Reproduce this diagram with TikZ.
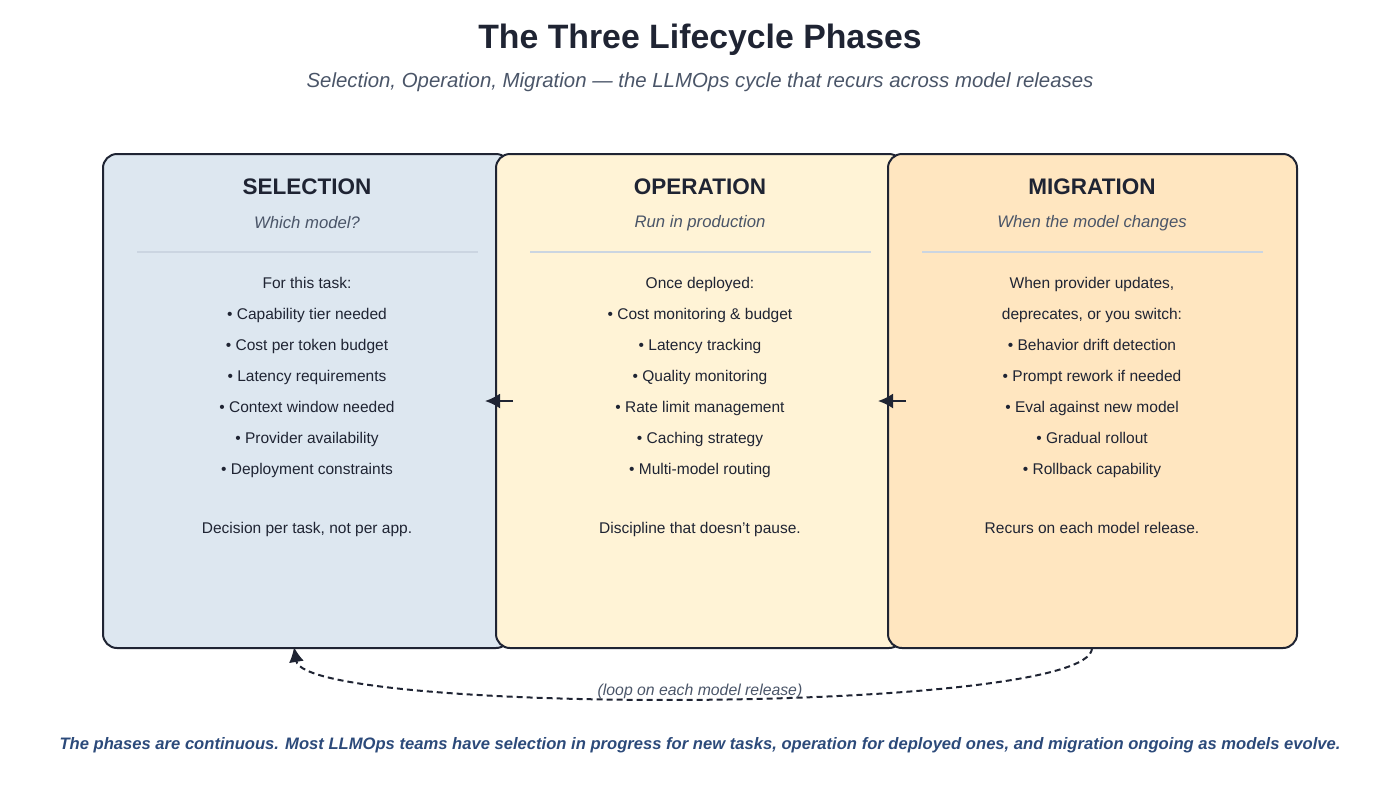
\documentclass[tikz,border=0pt]{standalone}
\usepackage{fontspec}
\setmainfont{Liberation Sans}
\usetikzlibrary{arrows.meta,positioning}
\definecolor{ink}{HTML}{1F2433}
\definecolor{subink}{HTML}{4A5568}
\definecolor{selfill}{HTML}{DDE7F0}
\definecolor{opfill}{HTML}{FFF3D6}
\definecolor{migfill}{HTML}{FFE6C0}
\definecolor{rulegray}{HTML}{CBD5E1}
\definecolor{footblue}{HTML}{2C4A7A}
\tikzset{
	phase/.style={draw=ink,line width=2pt,rounded corners=14pt},
	head/.style={font=\bfseries\fontsize{22.5}{27}\selectfont,text=ink},
	sub/.style={font=\itshape\fontsize{16.7}{20}\selectfont,text=subink},
	item/.style={font=\fontsize{15.5}{18}\selectfont,text=ink,text height=11pt,text depth=3.5pt},
	flow/.style={-{Latex[length=15pt,width=15pt]},line width=2pt,draw=ink}
}
\begin{document}
\begin{tikzpicture}[x=1pt,y=-1pt]
	\useasboundingbox (0,0) rectangle (1400,785);
	\node[font=\bfseries\fontsize{33.8}{40}\selectfont,text=ink] (title) at (700,40) {The Three Lifecycle Phases};
	\node[font=\itshape\fontsize{20.4}{24}\selectfont,text=subink] (subtitle) at (700,82) {Selection, Operation, Migration — the LLMOps cycle that recurs across model releases};
	% boxes
	\draw[phase,fill=selfill] (103,154) rectangle (510,648);
	\draw[phase,fill=opfill] (496,154) rectangle (903,648);
	\draw[phase,fill=migfill] (888,154) rectangle (1297,648);
	% selection
	\node[head] (selhead) at (307,187) {SELECTION};
	\node[sub] (selsub) at (307,223) {Which model?};
	\draw[rulegray,line width=1.5pt] (137,252) -- (478,252);
	\foreach \t [count=\i from 0] in {For this task:,• Capability tier needed,• Cost per token budget,• Latency requirements,• Context window needed,• Provider availability,• Deployment constraints}
		\node[item] (sel\i) at (307,285+31*\i) {\t};
	\node[item] (selnote) at (307,530) {Decision per task, not per app.};
	% operation
	\node[head] (ophead) at (700,187) {OPERATION};
	\node[sub] (opsub) at (700,223) {Run in production};
	\draw[rulegray,line width=1.5pt] (530,252) -- (871,252);
	\foreach \t [count=\i from 0] in {Once deployed:,• Cost monitoring \& budget,• Latency tracking,• Quality monitoring,• Rate limit management,• Caching strategy,• Multi-model routing}
		\node[item] (op\i) at (700,285+31*\i) {\t};
	\node[item] (opnote) at (700,530) {Discipline that doesn’t pause.};
	% migration
	\node[head] (mighead) at (1092,187) {MIGRATION};
	\node[sub] (migsub) at (1092,223) {When the model changes};
	\draw[rulegray,line width=1.5pt] (922,252) -- (1263,252);
	\foreach \t [count=\i from 0] in {{When provider updates,},{deprecates, or you switch:},• Behavior drift detection,• Prompt rework if needed,• Eval against new model,• Gradual rollout,• Rollback capability}
		\node[item] (mig\i) at (1092,285+31*\i) {\t};
	\node[item] (mignote) at (1092,530) {Recurs on each model release.};
	% arrows
	\coordinate (opin) at (513,401);
	\coordinate (selout) at (485,401);
	\coordinate (migin) at (906,401);
	\coordinate (opout) at (878,401);
	\draw[flow] (opin) -- (selout);
	\draw[flow] (migin) -- (opout);
	% loop back
	\coordinate (loopstart) at (1092,648);
	\coordinate (loopend) at (294,647);
	\draw[flow,dash pattern=on 6pt off 4pt] (loopstart) .. controls (1092,715) and (305,715) .. (loopend);
	\node[font=\itshape\fontsize{15.8}{19}\selectfont,text=subink] (looplabel) at (700,691) {(loop on each model release)};
	\node[font=\bfseries\itshape\fontsize{16.6}{20}\selectfont,text=footblue] (footer) at (700,745) {The phases are continuous. Most LLMOps teams have selection in progress for new tasks, operation for deployed ones, and migration ongoing as models evolve.};
\end{tikzpicture}
\end{document}
